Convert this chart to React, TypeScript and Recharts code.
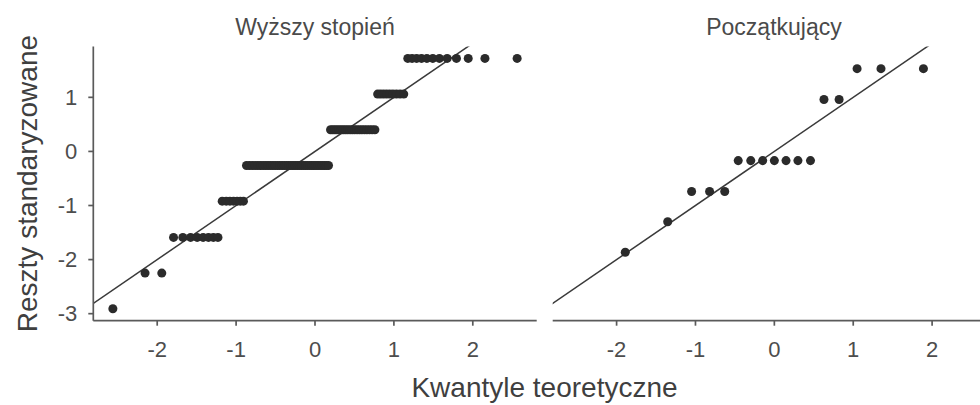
import React from 'react';
import {
  ScatterChart,
  Scatter,
  XAxis,
  YAxis,
  ZAxis,
  ReferenceLine,
} from 'recharts';

// Standardized residual levels (y) and the theoretical normal quantiles (x)
// of the observations sitting on each level.
const seniorLevels = [-2.91, -2.25, -1.59, -0.92, -0.26, 0.4, 1.06, 1.72];
const seniorQuantiles: number[][] = [
  [-2.562],
  [-2.154, -1.942],
  [-1.793, -1.675, -1.577, -1.493, -1.418, -1.35, -1.288, -1.23],
  [-1.176, -1.125, -1.078, -1.032, -0.988, -0.947, -0.907],
  [
    -0.868, -0.83, -0.794, -0.759, -0.724, -0.691, -0.658, -0.626, -0.595,
    -0.564, -0.533, -0.504, -0.474, -0.445, -0.416, -0.388, -0.36, -0.333,
    -0.305, -0.278, -0.251, -0.224, -0.197, -0.171, -0.144, -0.118, -0.092,
    -0.065, -0.039, -0.013, 0.013, 0.039, 0.065, 0.092, 0.118, 0.144, 0.171,
  ],
  [
    0.197, 0.224, 0.251, 0.278, 0.305, 0.333, 0.36, 0.388, 0.416, 0.445,
    0.474, 0.504, 0.533, 0.564, 0.595, 0.626, 0.658, 0.691, 0.724, 0.759,
  ],
  [0.794, 0.83, 0.868, 0.907, 0.947, 0.988, 1.032, 1.078, 1.125],
  [1.176, 1.23, 1.288, 1.35, 1.418, 1.493, 1.577, 1.675, 1.793, 1.942, 2.154, 2.562],
];

const noviceLevels = [-1.865, -1.3, -0.74, -0.17, 0.96, 1.53];
const noviceQuantiles: number[][] = [
  [-1.89],
  [-1.352],
  [-1.049, -0.821, -0.629],
  [-0.458, -0.299, -0.148, 0, 0.148, 0.299, 0.458],
  [0.629, 0.821],
  [1.049, 1.352, 1.89],
];

const panelTitles = ['Wyższy stopień', 'Początkujący'];
const xTitle = 'Kwantyle teoretyczne';
const yTitle = 'Reszty standaryzowane';

const xTicks = [-2, -1, 0, 1, 2];
const yTicks = [-3, -2, -1, 0, 1];
const xDomain: [number, number] = [-2.81, 2.81];
const yDomain: [number, number] = [-3.13, 1.94];

// Identity line y = x, clipped to the panel
const identityEnds = [-3.5, 3.5];

type Pt = { x: number; y: number };

function toPoints(levels: number[], quantiles: number[][]): Pt[] {
  const out: Pt[] = [];
  levels.forEach((lv, i) => {
    quantiles[i].forEach((q) => out.push({ x: q, y: lv }));
  });
  return out;
}

const seniorPoints = toPoints(seniorLevels, seniorQuantiles);
const novicePoints = toPoints(noviceLevels, noviceQuantiles);

const FONT = '"Liberation Sans", Arial, Helvetica, sans-serif';
const AXIS_COLOR = '#5a5a5a';
const POINT_COLOR = '#2b2b2b';
const LINE_COLOR = '#3a3a3a';
const TICK_STYLE = { fill: '#4d4d4d', fontSize: 22, fontFamily: FONT };

const PLOT_TOP = 46.5;
const X_AXIS_H = 40;
const BOTTOM_MARGIN = 405 - 320.7 - X_AXIS_H;

function Panel({
  points,
  width,
  margin,
  showY,
}: {
  points: Pt[];
  width: number;
  margin: { top: number; right: number; bottom: number; left: number };
  showY: boolean;
}) {
  return (
    <ScatterChart width={width} height={405} margin={margin}>
      <XAxis
        type="number"
        dataKey="x"
        domain={xDomain}
        ticks={xTicks}
        interval={0}
        allowDataOverflow
        height={X_AXIS_H}
        tickSize={5}
        tickMargin={16}
        tick={TICK_STYLE}
        axisLine={{ stroke: AXIS_COLOR, strokeWidth: 1.7 }}
        tickLine={{ stroke: AXIS_COLOR, strokeWidth: 1.7 }}
      />
      <YAxis
        type="number"
        dataKey="y"
        domain={yDomain}
        ticks={yTicks}
        interval={0}
        allowDataOverflow
        hide={!showY}
        width={60}
        tickSize={5}
        tickMargin={11}
        tick={TICK_STYLE}
        axisLine={{ stroke: AXIS_COLOR, strokeWidth: 1.7 }}
        tickLine={{ stroke: AXIS_COLOR, strokeWidth: 1.7 }}
      />
      <ZAxis range={[64, 64]} />
      <Scatter
        data={points}
        fill={POINT_COLOR}
        stroke="none"
        isAnimationActive={false}
      />
      <ReferenceLine
        segment={[
          { x: identityEnds[0], y: identityEnds[0] },
          { x: identityEnds[1], y: identityEnds[1] },
        ]}
        ifOverflow="hidden"
        stroke={LINE_COLOR}
        strokeWidth={1.5}
      />
    </ScatterChart>
  );
}

export default function App() {
  return (
    <div
      style={{
        position: 'absolute',
        left: 0,
        top: 0,
        width: 980,
        height: 405,
        overflow: 'hidden',
        background: '#ffffff',
        fontFamily: FONT,
      }}
    >
      <div style={{ position: 'absolute', left: 0, top: 0 }}>
        <Panel
          points={seniorPoints}
          width={545}
          margin={{ top: PLOT_TOP, right: 8.3, bottom: BOTTOM_MARGIN, left: 33.3 }}
          showY
        />
      </div>
      <div style={{ position: 'absolute', left: 545, top: 0 }}>
        <Panel
          points={novicePoints}
          width={451}
          margin={{ top: PLOT_TOP, right: 0, bottom: BOTTOM_MARGIN, left: 7.7 }}
          showY={false}
        />
      </div>
      <svg
        width={980}
        height={405}
        style={{ position: 'absolute', left: 0, top: 0, pointerEvents: 'none' }}
      >
        <text x={315} y={35} textAnchor="middle" fontSize={23} fill="#4a4a4a" fontFamily={FONT}>
          {panelTitles[0]}
        </text>
        <text x={774} y={35} textAnchor="middle" fontSize={23} fill="#4a4a4a" fontFamily={FONT}>
          {panelTitles[1]}
        </text>
        <text x={544.5} y={397} textAnchor="middle" fontSize={28} fill="#3f3f3f" fontFamily={FONT}>
          {xTitle}
        </text>
        <text
          x={37}
          y={183.6}
          textAnchor="middle"
          fontSize={28}
          fill="#3f3f3f"
          fontFamily={FONT}
          transform="rotate(-90, 37, 183.6)"
        >
          {yTitle}
        </text>
      </svg>
    </div>
  );
}
